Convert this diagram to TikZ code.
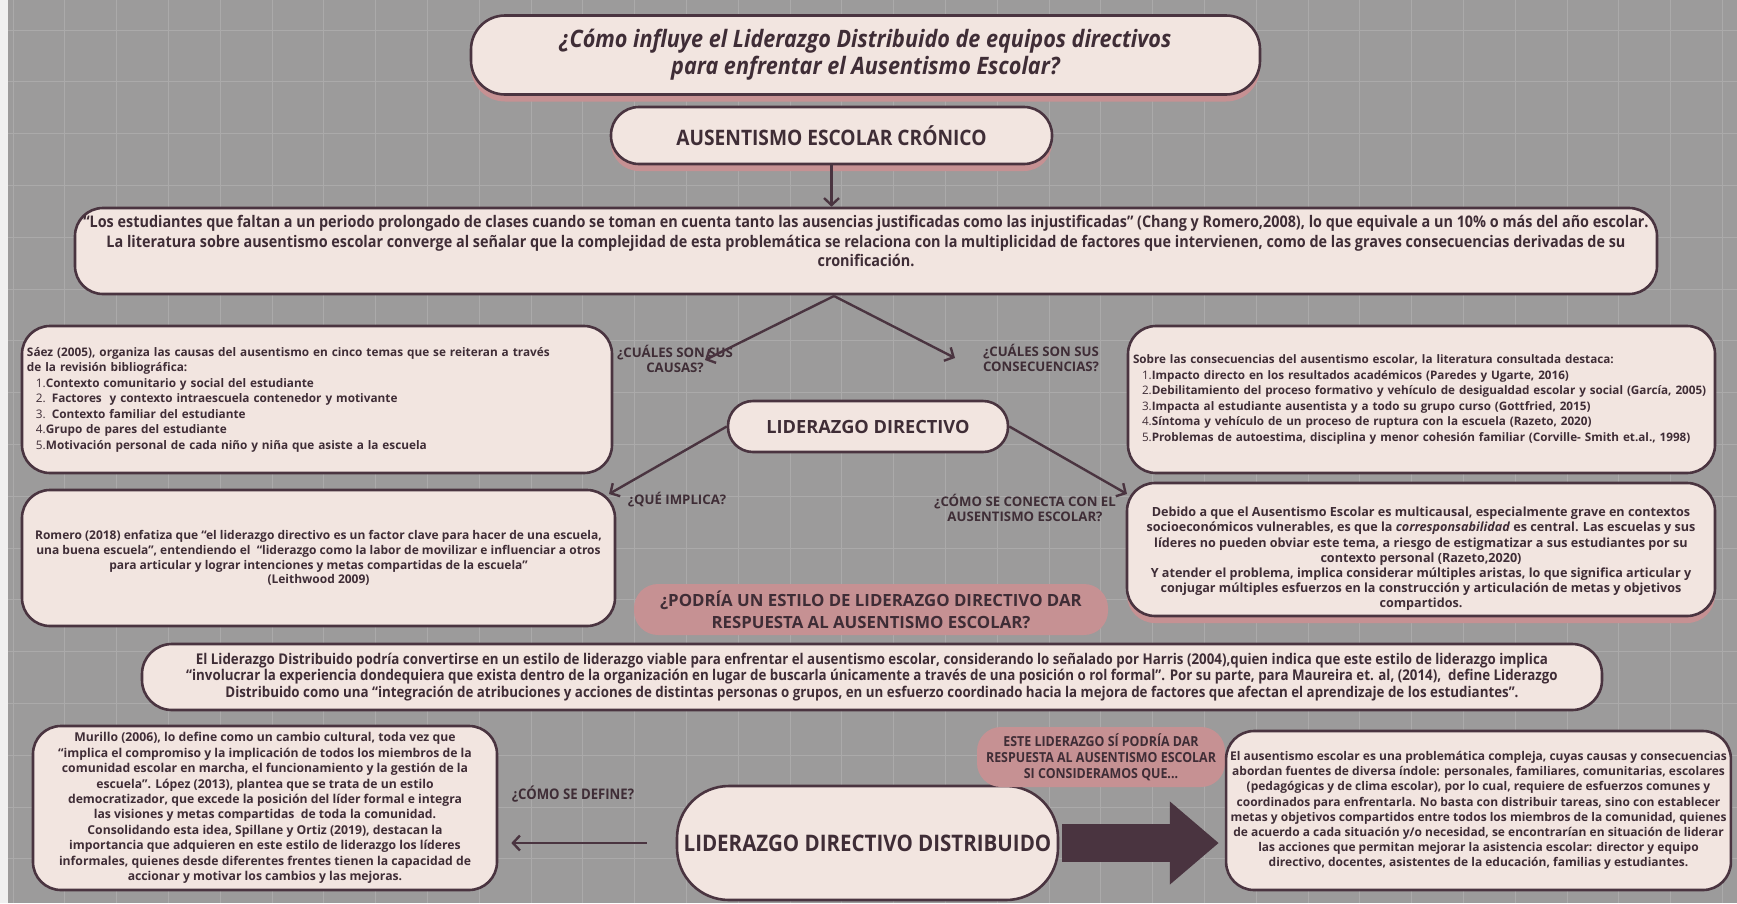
\documentclass[tikz,border=0pt]{standalone}
\usepackage{fontspec}
\setmainfont{Open Sans}
\newfontfamily\narrowfont{Open Sans}[FakeStretch=0.9]
\usepackage{tikz}
\usetikzlibrary{arrows.meta}
\usetikzlibrary{shadows}
\usetikzlibrary{calc}
\definecolor{fondo}{HTML}{9C9B9B}
\definecolor{rejilla}{HTML}{ABAAAA}
\definecolor{crema}{HTML}{F2E5E0}
\definecolor{ciruela}{HTML}{4A3440}
\definecolor{rosa}{HTML}{C69193}
\definecolor{tinta}{HTML}{3F2D36}
\newcommand{\cuerpo}[2]{\bfseries\fontsize{#1}{#2}\selectfont}
\newcommand{\estrecho}[2]{\narrowfont\bfseries\fontsize{#1}{#2}\selectfont}
\newcommand{\num}[1]{\hspace*{9pt}{\mdseries #1}}

\begin{document}
\begin{tikzpicture}[x=1pt,y=-1pt,
    caja/.style={draw=ciruela, line width=2.6pt, fill=crema, text=tinta, rounded corners=28pt, inner sep=4pt, align=center},
    sombra/.style={general shadow={fill=rosa, shadow yshift=-7pt}},
    rosada/.style={fill=rosa, text=tinta, rounded corners=24pt, align=center},
    pregunta/.style={text=tinta, align=center, font=\bfseries\fontsize{13.2}{15.5}\selectfont},
    flecha/.style={draw=ciruela, line width=2.4pt, -{Straight Barb[length=7pt,width=15pt]}}]
    \useasboundingbox (0,0) rectangle (1737,903);
    \fill[fondo] (0,0) rectangle (1737,903);
    \foreach \gx in {13,64.8,...,1737} \draw[rejilla, line width=0.8pt] (\gx,0) -- (\gx,903);
    \foreach \gy in {30,81.8,...,903} \draw[rejilla, line width=0.8pt] (0,\gy) -- (1737,\gy);
    \fill[white!85!fondo] (0,0) rectangle (8,903);
    %
    % Top of the map
    \node[caja, sombra, minimum width=789pt, minimum height=79pt, rounded corners=34pt,
      font=\narrowfont\bfseries\itshape\fontsize{24}{27}\selectfont] (titulo) at (865.5,55)
      {¿Cómo influye el Liderazgo Distribuido de equipos directivos\\ para enfrentar el Ausentismo Escolar?};
    \node[caja, sombra, minimum width=441pt, minimum height=57pt, font=\estrecho{21.3}{24}] (aus) at (831.5,135.5)
      {AUSENTISMO ESCOLAR CRÓNICO};
    \node[caja, minimum width=1582pt, minimum height=86pt, text depth=20pt, font=\estrecho{16}{19.4}] (def) at (866,251)
      {“Los estudiantes que faltan a un periodo prolongado de clases cuando se toman en cuenta tanto las ausencias justificadas como las injustificadas” (Chang y Romero,2008), lo que equivale a un 10\% o más del año escolar.\\
       La literatura sobre ausentismo escolar converge al señalar que la complejidad de esta problemática se relaciona con la multiplicidad de factores que intervienen, como de las graves consecuencias derivadas de su\\ cronificación.};
    %
    % Causes and consequences
    \node[caja, minimum height=147pt, text width=580pt, inner xsep=5pt, align=left, font=\cuerpo{11.8}{15.5}] (causas) at (317,399.5)
      {Sáez (2005), organiza las causas del ausentismo en cinco temas que se reiteran a través\\
       de la revisión bibliográfica:\\
       \num{1.}Contexto comunitario y social del estudiante\\
       \num{2.} Factores\ \ y contexto intraescuela contenedor y motivante\\
       \num{3.} Contexto familiar del estudiante\\
       \num{4.}Grupo de pares del estudiante\\
       \num{5.}Motivación personal de cada niño y niña que asiste a la escuela};
    \node[caja, minimum height=147pt, text width=577pt, inner xsep=5pt, align=left, font=\cuerpo{11.7}{15.5}] (consec) at (1421.5,399.5)
      {Sobre las consecuencias del ausentismo escolar, la literatura consultada destaca:\\
       \num{1.}Impacto directo en los resultados académicos (Paredes y Ugarte, 2016)\\
       \mbox{\num{2.}Debilitamiento del proceso formativo y vehículo de desigualdad escolar y social (García, 2005)}\\
       \num{3.}Impacta al estudiante ausentista y a todo su grupo curso (Gottfried, 2015)\\
       \num{4.}Síntoma y vehículo de un proceso de ruptura con la escuela (Razeto, 2020)\\
       \num{5.}Problemas de autoestima, disciplina y menor cohesión familiar (Corville- Smith et.al., 1998)};
    \node[pregunta] (qcausas) at (675,359) {¿CUÁLES SON SUS\\ CAUSAS?};
    \node[pregunta] (qconsec) at (1041,358) {¿CUÁLES SON SUS\\ CONSECUENCIAS?};
    %
    % Leadership
    \node[caja, minimum width=280pt, minimum height=51pt, rounded corners=25pt,
      font=\bfseries\fontsize{18.2}{22}\selectfont] (lider) at (868,426.5) {LIDERAZGO DIRECTIVO};
    \node[caja, minimum width=593pt, minimum height=136pt, font=\cuerpo{12}{14.8}] (romero) at (318.5,558)
      {Romero (2018) enfatiza que “el liderazgo directivo es un factor clave para hacer de una escuela,\\
       una buena escuela”, entendiendo el\ \ “liderazgo como la labor de movilizar e influenciar a otros\\
       para articular y lograr intenciones y metas compartidas de la escuela”\\
       (Leithwood 2009)};
    \node[caja, sombra, minimum width=588pt, minimum height=133pt, text height=120pt, font=\cuerpo{12.6}{15.2}] (debido) at (1421,549.5)
      {Debido a que el Ausentismo Escolar es multicausal, especialmente grave en contextos\\
       socioeconómicos vulnerables, es que la \textit{corresponsabilidad} es central. Las escuelas y sus\\
       líderes no pueden obviar este tema, a riesgo de estigmatizar a sus estudiantes por su\\
       contexto personal (Razeto,2020)\\
       Y atender el problema, implica considerar múltiples aristas, lo que significa articular y\\
       conjugar múltiples esfuerzos en la construcción y articulación de metas y objetivos\\
       compartidos.};
    \node[pregunta] (qimplica) at (677,500) {¿QUÉ IMPLICA?};
    \node[pregunta] (qconecta) at (1025,508) {¿CÓMO SE CONECTA CON EL\\ AUSENTISMO ESCOLAR?};
    \node[rosada, minimum width=474pt, minimum height=51pt, font=\bfseries\fontsize{16.8}{22}\selectfont] (podria) at (871,609.5)
      {¿PODRÍA UN ESTILO DE LIDERAZGO DIRECTIVO DAR\\ RESPUESTA AL AUSENTISMO ESCOLAR?};
    %
    % Distributed leadership
    \node[caja, minimum width=1460pt, minimum height=66pt, rounded corners=30pt, font=\estrecho{14.8}{16.6}] (harris) at (872,677)
      {El Liderazgo Distribuido podría convertirse en un estilo de liderazgo viable para enfrentar el ausentismo escolar, considerando lo señalado por Harris (2004),quien indica que este estilo de liderazgo implica\\
       “involucrar la experiencia dondequiera que exista dentro de la organización en lugar de buscarla únicamente a través de una posición o rol formal”. Por su parte, para Maureira et. al, (2014),\ \ define Liderazgo\\
       Distribuido como una “integración de atribuciones y acciones de distintas personas o grupos, en un esfuerzo coordinado hacia la mejora de factores que afectan el aprendizaje de los estudiantes”.};
    \node[caja, minimum width=464pt, minimum height=164pt, font=\cuerpo{12.2}{15.4}] (murillo) at (265,808)
      {Murillo (2006), lo define como un cambio cultural, toda vez que\\
       “implica el compromiso y la implicación de todos los miembros de la\\
       comunidad escolar en marcha, el funcionamiento y la gestión de la\\
       escuela”. López (2013), plantea que se trata de un estilo\\
       democratizador, que excede la posición del líder formal e integra\\
       las visiones y metas compartidas\ \ de toda la comunidad.\\
       Consolidando esta idea, Spillane y Ortiz (2019), destacan la\\
       importancia que adquieren en este estilo de liderazgo los líderes\\
       informales, quienes desde diferentes frentes tienen la capacidad de\\
       accionar y motivar los cambios y las mejoras.};
    \node[pregunta, font=\estrecho{14.6}{17}] (qdefine) at (573,794) {¿CÓMO SE DEFINE?};
    \node[caja, minimum width=381pt, minimum height=114pt, rounded corners=52pt, font=\estrecho{22.8}{26}] (ldd) at (867.5,843)
      {LIDERAZGO DIRECTIVO DISTRIBUIDO};
    \node[rosada, minimum width=248pt, minimum height=60pt, font=\estrecho{13.8}{16}] (este) at (1101,757)
      {ESTE LIDERAZGO SÍ PODRÍA DAR\\ RESPUESTA AL AUSENTISMO ESCOLAR\\ SI CONSIDERAMOS QUE...};
    \node[caja, minimum width=503pt, minimum height=159pt, font=\cuerpo{12}{15.2}] (final) at (1478.5,810.5)
      {El ausentismo escolar es una problemática compleja, cuyas causas y consecuencias\\
       abordan fuentes de diversa índole: personales, familiares, comunitarias, escolares\\
       (pedagógicas y de clima escolar), por lo cual, requiere de esfuerzos comunes y\\
       coordinados para enfrentarla. No basta con distribuir tareas, sino con establecer\\
       metas y objetivos compartidos entre todos los miembros de la comunidad, quienes\\
       de acuerdo a cada situación y/o necesidad, se encontrarían en situación de liderar\\
       las acciones que permitan mejorar la asistencia escolar: director y equipo\\
       directivo, docentes, asistentes de la educación, familias y estudiantes.};
    %
    % Edges:
    \coordinate (vertice) at (834,296);
    \coordinate (puntacausas) at (705,360);
    \coordinate (puntaconsec) at (955,358);
    \coordinate (puntaimplica) at (609,494);
    \coordinate (puntaconecta) at (1127,494);
    \draw[flecha] (aus.south) -- (aus.south |- def.north);
    \draw[flecha] (vertice) -- (puntacausas);
    \draw[flecha] (vertice) -- (puntaconsec);
    \draw[flecha] (lider.west) -- (puntaimplica);
    \draw[flecha] (lider.east) -- (puntaconecta);
    \draw[flecha, shorten <=29pt, shorten >=13pt] (ldd.west) -- (murillo.east |- ldd.west);
    \draw[ciruela, line width=38pt, -{Triangle[length=49pt,width=80pt]}, shorten <=3pt, shorten >=6pt]
      (ldd.east) -- (final.west |- ldd.east);
\end{tikzpicture}
\end{document}
